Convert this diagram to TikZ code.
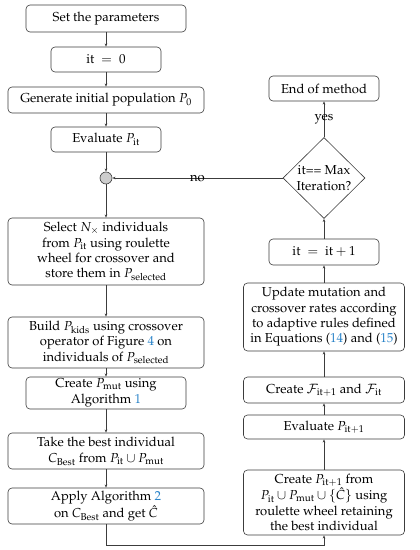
\documentclass[tikz,border=0pt]{standalone}
\usepackage[T1]{fontenc}
\usepackage{mathpazo}
\usetikzlibrary{shapes.geometric,arrows.meta}
\definecolor{linkblue}{RGB}{40,130,200}
\definecolor{circgray}{RGB}{205,205,205}
\definecolor{linegray}{RGB}{60,60,60}
\newcommand{\lk}[1]{\textcolor{linkblue}{#1}}
\begin{document}
\begin{tikzpicture}[x=1pt,y=1pt,
  every node/.style={font=\fontsize{13}{15.4}\selectfont},
  box/.style={draw=linegray, line width=0.6pt, rounded corners=4pt, align=center, inner sep=2pt},
  wide/.style={box, minimum width=196pt},
  mid/.style={box, minimum width=160pt},
  narrow/.style={box, minimum width=110pt},
  rbox/.style={box, minimum width=161pt},
  conn/.style={draw=linegray, line width=0.6pt, -{Stealth[length=3.2pt,width=2.6pt]}},
  lbl/.style={inner sep=0pt}]
\useasboundingbox (0,0) rectangle (420,550);
% left column
\node[mid, minimum height=27pt] (set) at (106,531.5) {Set the parameters};
\node[narrow, minimum height=25pt] (it0) at (106,490.5) {$\mathrm{it}\ =\ 0$};
\node[wide, minimum height=26pt] (gen) at (106,450) {Generate initial population $P_0$};
\node[narrow, minimum height=25pt] (eval) at (106,410.5) {Evaluate $P_{\mathrm{it}}$};
\node[circle, draw=linegray, fill=circgray, line width=0.6pt, minimum size=12pt, inner sep=0pt] (circ) at (106,372) {};
\node[wide, minimum height=67pt] (sel) at (106,298.5) {Select $N_\times$ individuals\\ from $P_{\mathrm{it}}$ using roulette\\ wheel for crossover and\\ store them in $P_{\mathrm{selected}}$};
\node[wide, minimum height=51pt] (build) at (106,207.5) {Build $P_{\mathrm{kids}}$ using crossover\\ operator of Figure \lk{4} on\\ individuals of $P_{\mathrm{selected}}$};
\node[mid, minimum height=32pt] (pmut) at (106,157) {Create $P_{\mathrm{mut}}$ using\\ Algorithm \lk{1}};
\node[wide, minimum height=36pt] (best) at (106,99) {Take the best individual\\[1pt] $C_{\mathrm{Best}}$ from $P_{\mathrm{it}}\cup P_{\mathrm{mut}}$};
\node[wide, minimum height=36pt] (apply) at (106,44) {Apply Algorithm \lk{2}\\[1pt] on $C_{\mathrm{Best}}$ and get $\hat{C}$};
% right column
\node[narrow, minimum height=25pt] (end) at (324,461.5) {End of method};
\node[diamond, draw=linegray, line width=0.6pt, minimum width=82pt, minimum height=81pt, inner sep=-5pt, align=center] (dia) at (324,372) {it== Max\\ Iteration?};
\node[narrow, minimum height=26pt] (inc) at (324,298) {$\mathrm{it}\ =\ \mathrm{it}+1$};
\node[rbox, minimum height=68pt] (upd) at (324,233) {Update mutation and\\ crossover rates according\\ to adaptive rules defined\\ in Equations (\lk{14}) and (\lk{15})};
\node[rbox, minimum height=26pt] (crf) at (324,160) {Create $\mathcal{F}_{\mathrm{it}+1}$ and $\mathcal{F}_{\mathrm{it}}$};
\node[rbox, minimum height=24pt] (ev2) at (324,123) {Evaluate $P_{\mathrm{it}+1}$};
\node[rbox, minimum height=65pt] (crp) at (324,47.5) {Create $P_{\mathrm{it}+1}$ from\\[1pt] $P_{\mathrm{it}}\cup P_{\mathrm{mut}}\cup\{\hat{C}\}$ using\\ roulette wheel retaining\\ the best individual};
\coordinate (bl) at (106,5);
\coordinate (br) at (324,5);
% connectors
\draw[conn] (set) -- (it0);
\draw[conn] (it0) -- (gen);
\draw[conn] (gen) -- (eval);
\draw[conn] (eval) -- (circ);
\draw[conn] (circ) -- (sel);
\draw[conn] (sel) -- (build);
\draw[conn] (build) -- (pmut);
\draw[conn] (pmut) -- (best);
\draw[conn] (best) -- (apply);
\draw[conn] (apply.south) -- (bl) -- (br) -- (crp.south);
\draw[conn] (crp) -- (ev2);
\draw[conn] (ev2) -- (crf);
\draw[conn] (crf) -- (upd);
\draw[conn] (upd) -- (inc);
\draw[conn] (inc) -- (dia);
\draw[conn] (dia) -- node[lbl] {yes} (end);
\draw[conn] (dia.west) -- node[lbl, pos=0.5] {no} (circ.east);
\end{tikzpicture}
\end{document}
